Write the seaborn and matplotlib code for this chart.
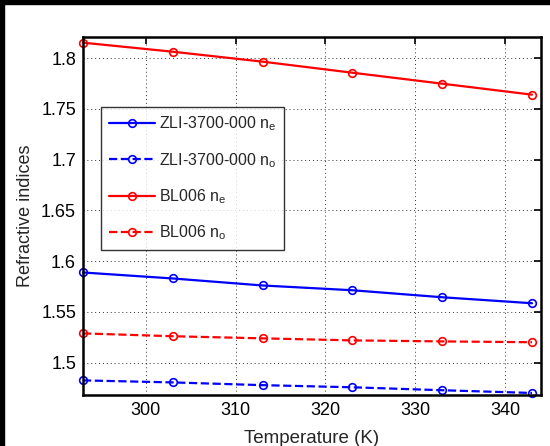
import matplotlib
matplotlib.use("Agg")
import matplotlib.pyplot as plt
from matplotlib.patches import Rectangle
import seaborn as sns
import pandas as pd

temps = [293, 303, 313, 323, 333, 343]
zli_ne = [1.5887, 1.5828, 1.5759, 1.5712, 1.5643, 1.5584]
zli_no = [1.4824, 1.4804, 1.4777, 1.4756, 1.4727, 1.4700]
bl_ne = [1.8151, 1.8062, 1.7964, 1.7855, 1.7747, 1.7639]
bl_no = [1.5287, 1.5259, 1.5238, 1.5218, 1.5208, 1.5200]

labels = ["ZLI-3700-000 n$_\\mathregular{e}$", "ZLI-3700-000 n$_\\mathregular{o}$",
          "BL006 n$_\\mathregular{e}$", "BL006 n$_\\mathregular{o}$"]
series = [zli_ne, zli_no, bl_ne, bl_no]
colors = ["#0000ff", "#0000ff", "#ff0000", "#ff0000"]
styles = ["-", "--", "-", "--"]

sns.set_style("white")
plt.rcParams['font.family'] = ['Liberation Sans', 'DejaVu Sans']
plt.rcParams['mathtext.fontset'] = 'custom'
plt.rcParams['mathtext.rm'] = 'Liberation Sans'

fig = plt.figure(figsize=(5.5, 4.46), dpi=100)
fig.patch.set_facecolor("white")
ax = fig.add_axes([83/550, 1-395/446, 458/550, 358/446])

for lab, vals, c, ls in zip(labels, series, colors, styles):
    df = pd.DataFrame({"T": temps, "n": vals})
    sns.lineplot(data=df, x="T", y="n", ax=ax, color=c, linestyle=ls, linewidth=1.6,
                 marker="o", markersize=5.5, markerfacecolor="none",
                 markeredgecolor=c, markeredgewidth=1.2, label=lab, clip_on=False)

ax.set_xlim(293, 344)
ax.set_ylim(1.468, 1.8207)
ax.set_xticks([300, 310, 320, 330, 340])
ax.set_yticks([1.5, 1.55, 1.6, 1.65, 1.7, 1.75, 1.8])
ax.set_yticklabels(["1.5", "1.55", "1.6", "1.65", "1.7", "1.75", "1.8"])
ax.grid(True, linestyle=(0, (1, 3)), color="black", linewidth=0.7, alpha=0.8)
ax.tick_params(direction="in", length=5, width=1.2, top=True, right=True,
               labelsize=13, colors="black", pad=5)
for s in ax.spines.values():
    s.set_visible(True)
    s.set_color("black")
    s.set_linewidth(1.8)
ax.set_xlabel("Temperature (K)", fontsize=13.5, labelpad=8)
ax.set_ylabel("Refractive indices", fontsize=13, labelpad=5)

leg = ax.legend(loc="upper left", bbox_to_anchor=(0.039, 0.805), fontsize=11.5,
                handlelength=2.9, handletextpad=0.25, labelspacing=1.1,
                frameon=True, fancybox=False, borderpad=0.5, borderaxespad=0)
leg.get_frame().set_edgecolor("black")
leg.get_frame().set_linewidth(1.0)

fig.add_artist(Rectangle((0, 1-4/446), 1, 4/446, transform=fig.transFigure,
                         color="black", zorder=10))
fig.add_artist(Rectangle((0, 0), 4/550, 1, transform=fig.transFigure,
                         color="black", zorder=10))

fig.savefig("out.png", dpi=100)
